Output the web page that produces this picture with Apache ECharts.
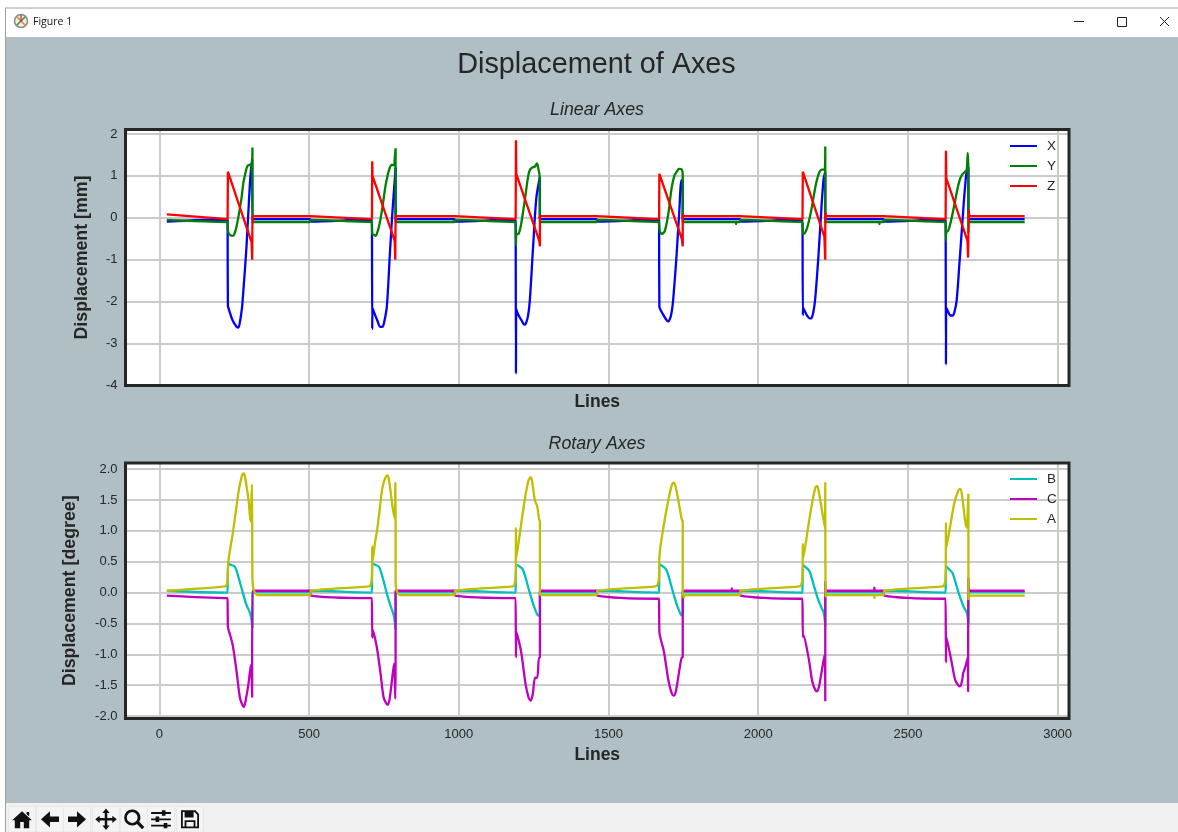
<!DOCTYPE html>
<html><head><meta charset="utf-8">
<style>html,body{margin:0;padding:0;background:#fff}#c{width:1178px;height:832px}</style>
<script src="https://cdn.jsdelivr.net/npm/echarts@6/dist/echarts.min.js"></script>
</head><body><div id="c"></div>
<script>
const figureTitle = 'Displacement of Axes';
const linearTitle = 'Linear Axes';
const rotaryTitle = 'Rotary Axes';
const xTicks = [0,500,1000,1500,2000,2500,3000];
const linearTicks = [-4,-3,-2,-1,0,1,2];
const rotaryTicks = [-2,-1.5,-1,-0.5,0,0.5,1,1.5,2];

const X = [[25,-.09],[228,-.04],[229,-.04],[229,-2.1],[233,-2.2],[245,-2.45],[258,-2.6],[264,-2.62],[270,-2.45],[276,-2.15],[280,-1.8],[291,-.7],[302,.75],[310,1.42],[311,1.42],[311,-.03],[503,-.03],
[506,-.09],[710,-.04],[711,-.04],[711,-2.65],[712,-2.15],[717,-2.25],[728,-2.45],[738,-2.6],[745,-2.6],[752,-2.45],[760,-2.1],[770,-.85],[778,.1],[787,.98],[789,1.2],[789,-.03],[985,-.03],
[988,-.09],[1190,-.04],[1191,-.04],[1191,-3.72],[1192,-2.18],[1198,-2.3],[1210,-2.45],[1219,-2.55],[1224,-2.52],[1231,-2.35],[1237,-2.0],[1248,-.72],[1259,.47],[1271,.98],[1271,-.03],[1460,-.03],
[1463,-.09],[1669,-.04],[1670,-.04],[1670,-2.12],[1674,-2.2],[1686,-2.35],[1695,-2.45],[1700,-2.47],[1706,-2.4],[1711,-2.25],[1716,-1.96],[1727,-.93],[1736,.1],[1744,.9],[1748,.9],[1748,-.03],[1938,-.03],
[1941,-.09],[2148,-.04],[2149,-.04],[2149,-2.32],[2150,-2.15],[2155,-2.22],[2163,-2.33],[2172,-2.4],[2177,-2.4],[2184,-2.25],[2190,-1.96],[2201,-.93],[2210,.1],[2218,.9],[2224,1.1],[2224,-.03],[2418,-.03],
[2421,-.09],[2626,-.04],[2627,-.04],[2627,-3.5],[2628,-2.15],[2633,-2.22],[2642,-2.33],[2650,-2.33],[2657,-2.2],[2663,-1.96],[2672,-1.1],[2680,-.3],[2691,.75],[2699,1.2],[2702,1.2],[2702,-.03],[2890,-.03]];

const Y = [[25,-.05],[228,-.1],[229,-.1],[229,-.3],[234,-.4],[245,-.43],[251,-.38],[258,-.2],[266,.1],[274,.45],[280,.8],[286,1.02],[292,1.2],[298,1.26],[306,1.27],[309,1.1],[311,1.68],[311,-.1],[503,-.1],
[506,-.05],[710,-.1],[711,-.1],[711,-.4],[715,-.4],[722,-.43],[730,-.3],[738,-.05],[745,.25],[755,.75],[762,1.0],[770,1.2],[776,1.27],[784,1.25],[786,1.4],[789,1.66],[789,-.1],[985,-.1],
[988,-.05],[1190,-.1],[1191,-.1],[1191,-.65],[1192,-.4],[1200,-.38],[1207,-.2],[1216,.2],[1224,.6],[1232,1.0],[1238,1.15],[1246,1.2],[1254,1.22],[1261,1.3],[1265,1.2],[1270,1.0],[1271,-.1],[1460,-.1],
[1463,-.05],[1669,-.1],[1670,-.1],[1671,-.3],[1678,-.38],[1684,-.36],[1689,-.3],[1700,.1],[1710,.67],[1720,1.0],[1730,1.12],[1735,1.17],[1744,1.16],[1748,1.0],[1748,-.1],[1925,-.1],[1926,-.15],[1927,-.1],[1938,-.1],
[1941,-.05],[2148,-.1],[2149,-.1],[2149,-.38],[2155,-.37],[2163,-.25],[2172,.0],[2179,.25],[2188,.62],[2196,.9],[2204,1.08],[2212,1.15],[2222,1.15],[2224,1.7],[2224,-.1],[2404,-.1],[2405,-.15],[2406,-.1],[2418,-.1],
[2421,-.05],[2626,-.1],[2627,-.1],[2627,-.55],[2628,-.35],[2635,-.3],[2643,-.1],[2652,.2],[2663,.6],[2672,.88],[2680,1.02],[2691,1.1],[2696,1.12],[2700,1.55],[2702,1.0],[2702,-.35],[2703,-.1],[2890,-.1]];

const Z = [[25,.08],[228,-.03],[229,-.03],[229,1.1],[308,-.58],[310,-1.0],[311,-1.0],[311,.04],[503,.04],
[506,.07],[710,-.03],[711,-.03],[711,1.35],[712,1.0],[786,-.55],[788,-1.0],[789,-1.0],[789,.04],[985,.04],
[988,.07],[1190,-.03],[1191,-.03],[1191,1.85],[1192,1.05],[1269,-.55],[1271,-.68],[1271,.04],[1460,.04],
[1463,.07],[1669,-.03],[1670,-.03],[1670,1.05],[1745,-.5],[1748,-.68],[1748,.1],[1750,.04],[1938,.04],
[1941,.07],[2148,-.03],[2149,-.03],[2149,1.1],[2221,-.45],[2224,-1.0],[2224,.14],[2226,.04],[2418,.04],
[2421,.07],[2626,-.03],[2627,-.03],[2627,1.6],[2628,.95],[2699,-.55],[2701,-.95],[2702,-.95],[2703,.2],[2705,.04],[2890,.04]];

const B = [[25,.03],[228,.0],[229,.0],[229,.47],[239,.45],[252,.42],[260,.32],[269,.17],[280,-.02],[291,-.2],[304,-.35],[311,-.57],[311,.0],[314,.01],[503,.01],
[506,.03],[710,.0],[711,.0],[711,.47],[721,.45],[733,.42],[741,.32],[750,.17],[760,-.02],[771,-.2],[783,-.37],[789,-.6],[789,.0],[792,.01],[985,.01],
[988,.03],[1190,.0],[1191,.0],[1191,.45],[1201,.43],[1213,.38],[1221,.28],[1230,.12],[1240,-.05],[1251,-.22],[1263,-.36],[1271,-.38],[1271,.0],[1274,.01],[1460,.01],
[1463,.03],[1669,.0],[1670,.0],[1670,.46],[1680,.43],[1692,.38],[1700,.28],[1709,.12],[1719,-.05],[1730,-.22],[1742,-.36],[1748,-.38],[1748,.0],[1751,.01],[1938,.01],
[1941,.03],[2148,.0],[2149,.0],[2149,.45],[2159,.41],[2171,.35],[2179,.23],[2188,.08],[2198,-.08],[2209,-.22],[2219,-.33],[2224,-.55],[2224,.0],[2227,.01],[2418,.01],
[2421,.03],[2626,.0],[2627,.0],[2627,.43],[2637,.38],[2649,.32],[2657,.2],[2666,.05],[2676,-.1],[2687,-.24],[2697,-.33],[2702,-.5],[2702,.0],[2705,.01],[2890,.01]];

const C = [[25,-.05],[228,-.09],[229,-.09],[229,-.55],[236,-.68],[245,-.85],[258,-1.28],[269,-1.7],[277,-1.82],[282,-1.85],[287,-1.78],[297,-1.5],[306,-1.17],[310,-1.7],[310,-1.17],[311,.03],[503,.03],
[506,-.05],[710,-.09],[711,-.09],[711,-.73],[712,-.6],[725,-.85],[738,-1.28],[749,-1.7],[757,-1.79],[762,-1.82],[768,-1.75],[775,-1.5],[784,-1.15],[788,-1.72],[789,-1.1],[789,.03],[985,.03],
[988,-.05],[1190,-.09],[1191,-.09],[1191,-1.05],[1192,-.63],[1208,-.95],[1222,-1.45],[1233,-1.7],[1240,-1.75],[1247,-1.65],[1255,-1.38],[1262,-1.38],[1268,-1.05],[1271,-1.05],[1271,.03],[1460,.03],
[1463,-.05],[1669,-.1],[1670,-.1],[1670,-.63],[1685,-.95],[1700,-1.42],[1711,-1.63],[1718,-1.67],[1725,-1.6],[1738,-1.22],[1745,-1.05],[1748,-1.05],[1748,.03],[1911,.03],[1912,.07],[1913,.03],[1938,.03],
[1941,-.05],[2148,-.1],[2149,-.1],[2149,-.72],[2150,-.68],[2168,-1.05],[2181,-1.45],[2191,-1.58],[2197,-1.6],[2204,-1.5],[2212,-1.28],[2222,-1.0],[2224,-1.76],[2224,.18],[2227,.03],[2387,.03],[2388,.08],[2389,.03],[2418,.03],
[2421,-.05],[2626,-.1],[2627,-.1],[2627,-1.13],[2628,-.71],[2645,-1.1],[2658,-1.42],[2668,-1.5],[2674,-1.52],[2680,-1.45],[2685,-1.3],[2692,-1.2],[2700,-1.05],[2701,-1.6],[2702,.24],[2705,.03],[2890,.03]];

const A = [[25,.03],[220,.1],[225,.13],[228,.2],[229,.3],[230,.48],[238,.75],[245,.95],[255,1.3],[265,1.65],[275,1.88],[281,1.93],[285,1.9],[292,1.7],[298,1.5],[305,1.15],[306,1.2],[309,1.75],[310,1.2],[311,.2],[315,.05],[322,-.02],[328,-.04],[503,-.04],
[506,.03],[700,.1],[706,.13],[710,.25],[711,.75],[712,.5],[720,.8],[727,1.0],[736,1.35],[745,1.7],[755,1.86],[762,1.9],[766,1.85],[772,1.65],[780,1.35],[787,1.2],[788,1.78],[789,1.15],[789,.15],[793,.03],[800,-.03],[806,-.04],[985,-.04],
[988,.03],[1180,.1],[1186,.13],[1190,.25],[1191,1.05],[1192,.55],[1208,1.1],[1222,1.55],[1233,1.82],[1240,1.87],[1245,1.8],[1254,1.5],[1262,1.4],[1268,1.2],[1271,1.15],[1271,.0],[1274,-.04],[1460,-.04],
[1463,.03],[1658,.1],[1664,.13],[1669,.25],[1670,.58],[1685,1.1],[1700,1.5],[1712,1.75],[1718,1.78],[1724,1.72],[1735,1.45],[1744,1.2],[1748,1.15],[1748,.0],[1752,-.08],[1756,-.04],[1938,-.04],
[1941,.03],[2138,.1],[2144,.13],[2148,.25],[2149,.79],[2150,.55],[2168,1.1],[2180,1.45],[2191,1.7],[2197,1.73],[2203,1.62],[2214,1.3],[2223,1.05],[2224,1.78],[2225,-.06],[2230,-.04],[2387,-.04],[2388,-.09],[2389,-.04],[2418,-.04],
[2421,.03],[2616,.1],[2622,.13],[2626,.25],[2627,1.13],[2628,.72],[2642,1.1],[2655,1.45],[2668,1.65],[2674,1.68],[2680,1.6],[2690,1.2],[2696,1.05],[2702,1.6],[2702,-.12],[2708,-.05],[2890,-.05]];

const ink = '#262626', gridColor = '#cbcbcb', face = '#afbfc4', font = 'Liberation Sans';
const lineSeries = (name, data, color, g, smooth) => ({name, type:'line', data, xAxisIndex:g, yAxisIndex:g, showSymbol:false, smooth,
  lineStyle:{color, width:2.3}, itemStyle:{color}, animation:false, silent:true});
const xAxis = (g, showLabel) => ({gridIndex:g, type:'value', min:-113, max:3038,
  name:'Lines', nameLocation:'middle', nameGap: showLabel ? 28 : 8,
  nameTextStyle:{fontFamily:font, fontWeight:'bold', fontSize:17.5, color:ink},
  axisLine:{show:false}, axisTick:{show:false, customValues:xTicks},
  axisLabel:{show:showLabel, customValues:xTicks, formatter:v=>String(v), color:ink, fontFamily:font, fontSize:13, margin:9},
  splitLine:{show:true, lineStyle:{color:gridColor, width:2}}});
const yAxis = (g, name, min, max, ticks, fmt, gap) => ({gridIndex:g, type:'value', min, max, name, nameLocation:'middle', nameGap:gap,
  nameTextStyle:{fontFamily:font, fontWeight:'bold', fontSize:17.8, color:ink},
  axisLine:{show:false}, axisTick:{show:false, customValues:ticks},
  axisLabel:{customValues:ticks, formatter:fmt, color:ink, fontFamily:font, fontSize:13, margin:8, padding:[3,0,0,0]},
  splitLine:{show:true, lineStyle:{color:gridColor, width:2}}});
const legend = (data, top) => ({data, orient:'vertical', left:1005, top, icon:'rect', itemWidth:27, itemHeight:2, itemGap:6,
  selectedMode:false, textStyle:{color:ink, fontFamily:font, fontSize:13.5, lineHeight:14, padding:[0,0,0,5]}});

// window chrome icons (24x24 viewbox)
const icons = [
 'M12 3 L1 13 L4 13 L4 22 L10 22 L10 15 L14 15 L14 22 L20 22 L20 13 L23 13 Z M17 4 L20 4 L20 9 L17 6 Z',
 'M12 3 L2 12 L12 21 L12 15 L22 15 L22 9 L12 9 Z',
 'M12 3 L22 12 L12 21 L12 15 L2 15 L2 9 L12 9 Z',
 'M12 0 L16 5 L13.4 5 L13.4 10.6 L19 10.6 L19 8 L24 12 L19 16 L19 13.4 L13.4 13.4 L13.4 19 L16 19 L12 24 L8 19 L10.6 19 L10.6 13.4 L5 13.4 L5 16 L0 12 L5 8 L5 10.6 L10.6 10.6 L10.6 5 L8 5 Z',
 'M10 1 A9 9 0 1 0 15.3 17.3 L21 23 L23.5 20.5 L17.8 14.8 A9 9 0 0 0 10 1 Z M10 4 A6 6 0 1 1 10 16 A6 6 0 1 1 10 4 Z',
 'M1 4 L13 4 L13 2 L17 2 L17 4 L23 4 L23 6 L17 6 L17 8 L13 8 L13 6 L1 6 Z M1 11 L6 11 L6 9 L10 9 L10 11 L23 11 L23 13 L10 13 L10 15 L6 15 L6 13 L1 13 Z M1 18 L15 18 L15 16 L19 16 L19 18 L23 18 L23 20 L19 20 L19 22 L15 22 L15 20 L1 20 Z',
 'M2 2 L18 2 L22 6 L22 22 L2 22 Z M4 4 L4 20 L20 20 L20 7 L17 4 L16 4 L16 10 L6 10 L6 4 Z M12 5 L14 5 L14 9 L12 9 Z M6 13 L18 13 L18 20 L16 20 L16 15 L8 15 L8 20 L6 20 Z'];
const iconCentres = [22,50,77,106,134,161,190];
icons.forEach((d,i)=>echarts.graphic.registerShape('toolIcon'+i, echarts.graphic.extendPath(d,{})));
const sq = (x,y,w,h,fill,stroke) => ({type:'rect', silent:true, z:-10, shape:{x,y,width:w,height:h}, style:{fill, stroke:stroke||null, lineWidth:stroke?1:0}});
const seg = (x1,y1,x2,y2,color,w) => ({type:'line', silent:true, z:-10, shape:{x1,y1,x2,y2}, style:{stroke:color, lineWidth:w||1}});
const frame = (x,y,w,h) => ({type:'rect', silent:true, z:50, shape:{x,y,width:w,height:h}, style:{fill:'none', stroke:ink, lineWidth:3}});
const chrome = [
  sq(0,0,1178,832,'#ffffff'),
  sq(5.5,8.5,1173,28,'#ffffff'),
  sq(5,37,1173,766,face),
  sq(5,803,1173,29,'#f0f0f0'),
  seg(5.5,8,5.5,832,'#a0a0a0'),
  seg(5,8,1178,8,'#a0a0a0'),
  {type:'circle', silent:true, z:-10, shape:{cx:21,cy:21,r:6.5}, style:{fill:'#f2eee6', stroke:'#8a8a8a', lineWidth:1.5}},
  seg(17,17,25,25,'#e0822a',1.6), seg(25,17,17,25,'#3c8a3c',1.6), seg(21,15,21,21,'#c94040',1.4),
  {type:'text', silent:true, z:-10, style:{x:33,y:22,text:'Figure 1',fill:'#111',font:'10.5px "Open Sans"',textVerticalAlign:'middle'}},
  seg(1074,21.5,1084,21.5,'#222'),
  {type:'rect', silent:true, z:-10, shape:{x:1117.5,y:17.5,width:9,height:9}, style:{fill:'none',stroke:'#222',lineWidth:1}},
  seg(1160,17,1169,26,'#222'), seg(1169,17,1160,26,'#222'),
  frame(125.5,129.5,943.5,256), frame(125.5,463,943.5,255.5)
];
iconCentres.forEach((c,i)=>{
  chrome.push(sq(c-13.5,806.5,27,25.5,'#f4f4f4','#e8e8e8'));
  chrome.push({type:'toolIcon'+i, silent:true, z:-9, x:c-10.8, y:808.5, scaleX:0.9, scaleY:0.9, style:{fill:'#111'}});
});

const chart = echarts.init(document.getElementById('c'), null, {renderer:'canvas', width:1178, height:832});
chart.setOption({
  animation:false,
  backgroundColor:'#ffffff',
  graphic:{elements:chrome},
  title:[
    {text:figureTitle, left:591.5, top:46, textAlign:'center', textStyle:{fontFamily:font, fontSize:28.8, fontWeight:'normal', color:ink}},
    {text:linearTitle, left:592, top:96.5, textAlign:'center', textStyle:{fontFamily:font, fontSize:17.8, fontStyle:'italic', fontWeight:'normal', color:ink}},
    {text:rotaryTitle, left:592, top:430.5, textAlign:'center', textStyle:{fontFamily:font, fontSize:17.8, fontStyle:'italic', fontWeight:'normal', color:ink}}
  ],
  grid:[
    {left:125.5, width:943.5, top:129.5, height:256, show:true, backgroundColor:'#fff', borderWidth:0, containLabel:false},
    {left:125.5, width:943.5, top:463, height:255.5, show:true, backgroundColor:'#fff', borderWidth:0, containLabel:false}
  ],
  xAxis:[xAxis(0,false), xAxis(1,true)],
  yAxis:[
    yAxis(0,'Displacement [mm]',-4,2.107,linearTicks,v=>String(v),34),
    yAxis(1,'Displacement [degree]',-2.04,2.1,rotaryTicks,v=>v.toFixed(1),46)
  ],
  legend:[legend(['X','Y','Z'],134), legend(['B','C','A'],467)],
  series:[
    lineSeries('X',X,'#0000ff',0,0.3), lineSeries('Y',Y,'#008000',0,0.3), lineSeries('Z',Z,'#ff0000',0,false),
    lineSeries('B',B,'#00bfbf',1,0.3), lineSeries('C',C,'#bf00bf',1,0.3), lineSeries('A',A,'#bfbf00',1,0.3)
  ]
});
</script></body></html>
